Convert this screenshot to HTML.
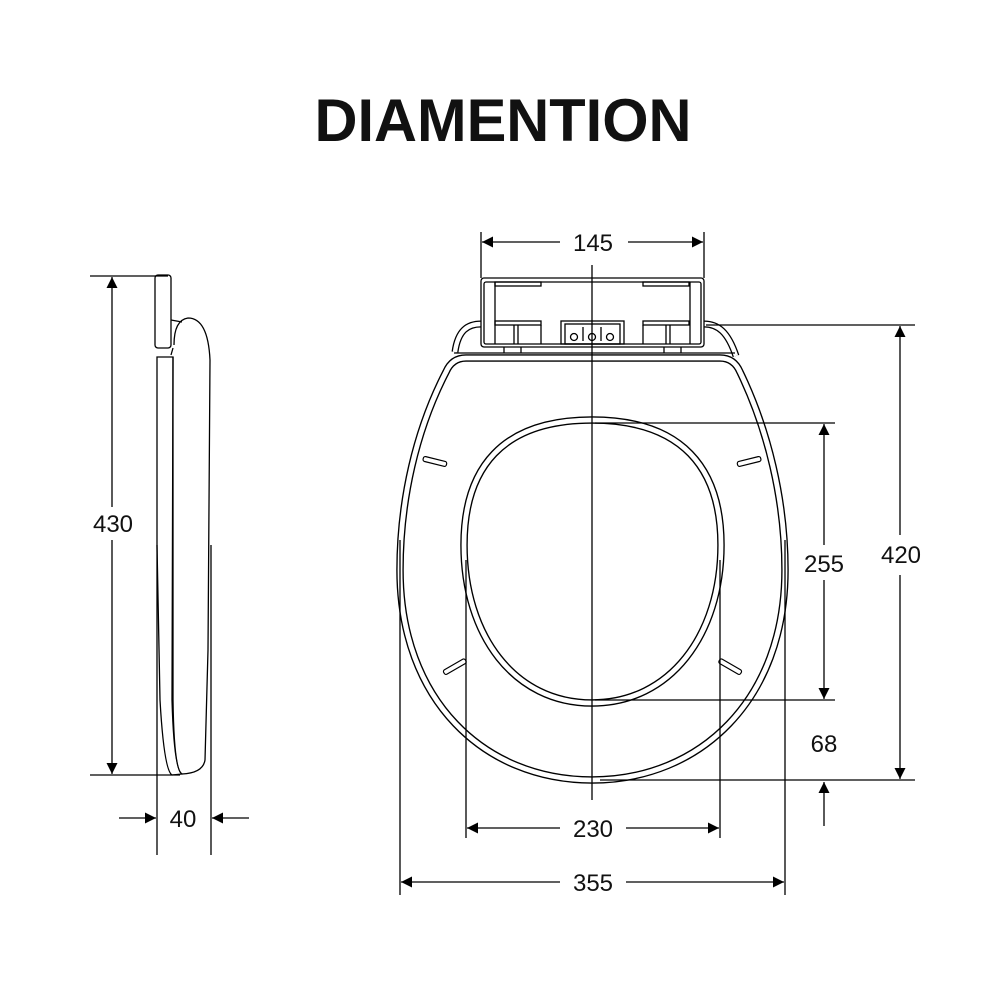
<!DOCTYPE html>
<html><head><meta charset="utf-8"><style>
html,body{margin:0;padding:0;background:#fff;}
svg{display:block;}
text{font-family:"Liberation Sans",sans-serif;fill:#111;}
</style></head><body>
<svg width="1000" height="1000" viewBox="0 0 1000 1000" xmlns="http://www.w3.org/2000/svg">
<defs>
<marker id="a" viewBox="0 0 10 10" refX="10" refY="5" markerWidth="11" markerHeight="11" markerUnits="userSpaceOnUse" orient="auto"><path d="M0,0 L10,5 L0,10z" fill="#000"/></marker>
</defs>
<text x="503" y="141" font-size="60" font-weight="bold" text-anchor="middle" textLength="377" lengthAdjust="spacingAndGlyphs">DIAMENTION</text>

<!-- seat outlines (double lines) -->
<g fill="none">
<path d="M455,352 C458,330 468,324 481,324 M704,324 C718,324 728,332 736,356" stroke="#000" stroke-width="7"/>
<path d="M455,352 C458,330 468,324 481,324 M704,324 C718,324 728,332 736,356" stroke="#fff" stroke-width="4.4"/>
<path d="M466,358 L720,358 Q734,358 740,372 C768,430 785,500 785,570 C785,700 700,780 592,780 C484,780 400,700 400,570 C400,500 416,430 446,372 Q452,358 466,358 Z" stroke="#000" stroke-width="7.5"/>
<path d="M466,358 L720,358 Q734,358 740,372 C768,430 785,500 785,570 C785,700 700,780 592,780 C484,780 400,700 400,570 C400,500 416,430 446,372 Q452,358 466,358 Z" stroke="#fff" stroke-width="4.8"/>
<path d="M592,420 C682,420 721,468 721,545 C721,635 670,703 592,703 C514,703 464,635 464,545 C464,468 502,420 592,420 Z" stroke="#000" stroke-width="7.5"/>
<path d="M592,420 C682,420 721,468 721,545 C721,635 670,703 592,703 C514,703 464,635 464,545 C464,468 502,420 592,420 Z" stroke="#fff" stroke-width="4.8"/>
</g>

<g stroke="#000" stroke-width="1.3" fill="none">
<line x1="454" y1="353" x2="735" y2="353"/>
<!-- Side view -->
<line x1="90" y1="276" x2="168" y2="276"/>
<line x1="90" y1="775" x2="180" y2="775"/>
<line x1="112" y1="507" x2="112" y2="277" marker-end="url(#a)"/>
<line x1="112" y1="540" x2="112" y2="774" marker-end="url(#a)"/>
<line x1="157" y1="545" x2="157" y2="855"/>
<line x1="211" y1="545" x2="211" y2="855"/>
<line x1="119" y1="818" x2="156" y2="818" marker-end="url(#a)"/>
<line x1="249" y1="818" x2="212" y2="818" marker-end="url(#a)"/>
<rect x="155" y="275" width="16" height="73" rx="3"/>
<path d="M157,357 L157,545 L160,700 Q164,770 172,775 L182,774 Q174,770 172,700 L173,357 Z"/>
<path d="M173,357 L173,700 Q174,770 182,774 Q203,773 205,760 L208,650 L210,360 Q208,318 188,318 Q174,320 174,345"/>
<path d="M171,320 L182,322 M171,355 L173,348"/>

<!-- Front: hinge -->
<rect x="481" y="278" width="223" height="69" rx="3" fill="#fff"/>
<rect x="484" y="282" width="217" height="62" rx="2"/>
<path d="M495,282 v62 M690,282 v62"/>
<rect x="495" y="282" width="46" height="4"/><rect x="643" y="282" width="46" height="4"/>
<rect x="495" y="321" width="46" height="4"/><rect x="643" y="321" width="46" height="4"/>
<path d="M514,325 v19 M518,325 v19 M541,325 v19 M643,325 v19 M666,325 v19 M670,325 v19"/>
<rect x="561" y="321" width="63" height="23"/><rect x="565" y="324" width="55" height="20"/>
<circle cx="574" cy="337" r="3.5"/><circle cx="592" cy="337" r="3.5"/><circle cx="610" cy="337" r="3.5"/>
<path d="M583,327 v14 M601,327 v14"/>
<path d="M504,347 v6 M521,347 v6 M664,347 v6 M681,347 v6"/>
</g>

<g stroke="#000" stroke-width="1.2" fill="#fff">
<rect x="423" y="459" width="24" height="5" rx="2" transform="rotate(14 435 461)"/>
<rect x="737" y="459" width="24" height="5" rx="2" transform="rotate(-14 749 461)"/>
<rect x="442" y="664" width="25" height="5" rx="2" transform="rotate(-30 455 666)"/>
<rect x="718" y="664" width="25" height="5" rx="2" transform="rotate(30 730 666)"/>
</g>

<g stroke="#000" stroke-width="1.3" fill="none">
<line x1="592" y1="265" x2="592" y2="800"/>
<line x1="481" y1="232" x2="481" y2="278"/><line x1="704" y1="232" x2="704" y2="278"/>
<line x1="560" y1="242" x2="482" y2="242" marker-end="url(#a)"/>
<line x1="628" y1="242" x2="703" y2="242" marker-end="url(#a)"/>
<line x1="706" y1="325" x2="915" y2="325"/><line x1="600" y1="780" x2="915" y2="780"/>
<line x1="900" y1="535" x2="900" y2="326" marker-end="url(#a)"/>
<line x1="900" y1="575" x2="900" y2="779" marker-end="url(#a)"/>
<line x1="595" y1="423" x2="835" y2="423"/><line x1="595" y1="700" x2="835" y2="700"/>
<line x1="824" y1="545" x2="824" y2="424" marker-end="url(#a)"/>
<line x1="824" y1="580" x2="824" y2="699" marker-end="url(#a)"/>
<line x1="824" y1="826" x2="824" y2="782" marker-end="url(#a)"/>
<line x1="466" y1="560" x2="466" y2="838"/><line x1="720" y1="560" x2="720" y2="838"/>
<line x1="560" y1="828" x2="467" y2="828" marker-end="url(#a)"/>
<line x1="626" y1="828" x2="719" y2="828" marker-end="url(#a)"/>
<line x1="400" y1="540" x2="400" y2="895"/><line x1="785" y1="540" x2="785" y2="895"/>
<line x1="560" y1="882" x2="401" y2="882" marker-end="url(#a)"/>
<line x1="626" y1="882" x2="784" y2="882" marker-end="url(#a)"/>
</g>

<g font-size="24" text-anchor="middle">
<text x="593" y="251">145</text>
<text x="113" y="532">430</text>
<text x="183" y="827">40</text>
<text x="901" y="563">420</text>
<text x="824" y="572">255</text>
<text x="824" y="752">68</text>
<text x="593" y="837">230</text>
<text x="593" y="891">355</text>
</g>
</svg>
</body></html>
